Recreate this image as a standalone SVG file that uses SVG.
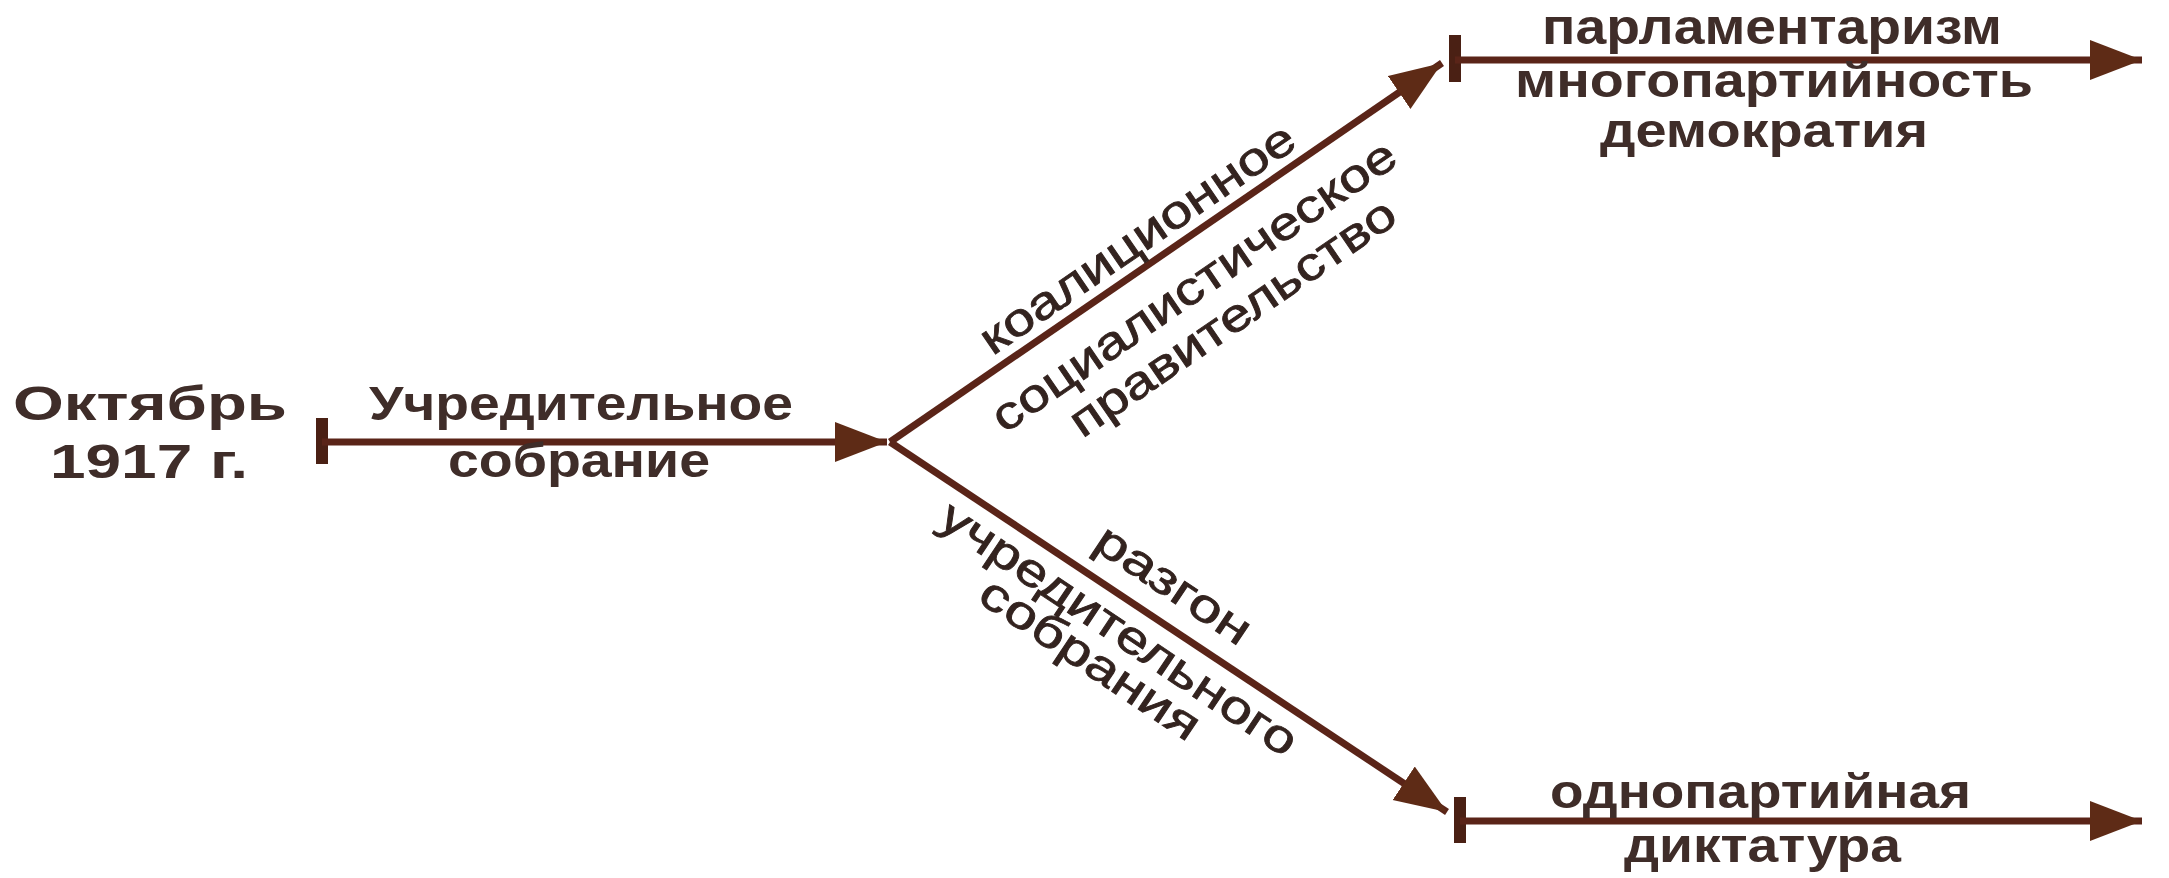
<svg xmlns="http://www.w3.org/2000/svg" width="2169" height="878" viewBox="0 0 2169 878">
  <style>
    .t { font-family: "Liberation Sans", Arial, sans-serif; font-weight: bold; fill: #3f2d29; font-size: 48px; }
    .d { font-family: "Liberation Sans", Arial, sans-serif; font-weight: normal; fill: #33231f; font-size: 46px; text-anchor: middle; stroke: #33231f; stroke-width: 0.8; }
    .ln { stroke: #5a2418; stroke-width: 7; fill: none; }
    .tick { stroke: #4a2014; stroke-width: 12; fill: none; }
  </style>
  <defs>
    <marker id="arr" markerUnits="userSpaceOnUse" markerWidth="54" markerHeight="42" refX="52" refY="21" orient="auto" viewBox="0 0 54 42">
      <path d="M0,1 L52,21 L0,41 Z" fill="#5e2b16"/>
    </marker>
  </defs>
  <rect width="2169" height="878" fill="#ffffff"/>

  <g id="connectors">
    <line class="tick" x1="322" y1="418" x2="322" y2="464"/>
    <line class="ln" x1="322" y1="442" x2="887" y2="442" marker-end="url(#arr)"/>
    <line class="ln" x1="890" y1="442" x2="1442" y2="63" marker-end="url(#arr)"/>
    <line class="ln" x1="890" y1="442" x2="1447" y2="812" marker-end="url(#arr)"/>
    <line class="tick" x1="1455" y1="35" x2="1455" y2="82"/>
    <line class="ln" x1="1455" y1="60" x2="2142" y2="60" marker-end="url(#arr)"/>
    <line class="tick" x1="1460" y1="797" x2="1460" y2="843"/>
    <line class="ln" x1="1460" y1="821" x2="2142" y2="821" marker-end="url(#arr)"/>
  </g>

  <g id="node-start">
    <text class="t" x="13" y="420" textLength="274" lengthAdjust="spacingAndGlyphs">Октябрь</text>
    <text class="t" x="50" y="478" textLength="198" lengthAdjust="spacingAndGlyphs">1917 г.</text>
  </g>

  <g id="label-main">
    <text class="t" x="369" y="420" textLength="424" lengthAdjust="spacingAndGlyphs">Учредительное</text>
    <text class="t" x="448" y="477" textLength="262" lengthAdjust="spacingAndGlyphs">собрание</text>
  </g>

  <g id="label-upper" transform="translate(890,442) rotate(-34.4)">
    <text class="d" x="319" y="-13" textLength="372" lengthAdjust="spacingAndGlyphs">коалиционное</text>
    <text class="d" x="339" y="58" textLength="480" lengthAdjust="spacingAndGlyphs">социалистическое</text>
    <text class="d" x="353" y="106" textLength="385" lengthAdjust="spacingAndGlyphs">правительство</text>
  </g>

  <g id="label-lower" transform="translate(890,442) rotate(33.8)">
    <text class="d" x="315" y="-24" textLength="178" lengthAdjust="spacingAndGlyphs">разгон</text>
    <text class="d" x="294" y="43" textLength="420" lengthAdjust="spacingAndGlyphs">учредительного</text>
    <text class="d" x="287" y="84" textLength="255" lengthAdjust="spacingAndGlyphs">собрания</text>
  </g>

  <g id="node-upper">
    <text class="t" x="1542" y="44" textLength="460" lengthAdjust="spacingAndGlyphs" style="font-size:50px">парламентаризм</text>
    <text class="t" x="1515" y="97" textLength="518" lengthAdjust="spacingAndGlyphs">многопартийность</text>
    <text class="t" x="1600" y="147" textLength="328" lengthAdjust="spacingAndGlyphs">демократия</text>
  </g>

  <g id="node-lower">
    <text class="t" x="1550" y="808" textLength="421" lengthAdjust="spacingAndGlyphs">однопартийная</text>
    <text class="t" x="1624" y="862" textLength="277" lengthAdjust="spacingAndGlyphs">диктатура</text>
  </g>
</svg>
